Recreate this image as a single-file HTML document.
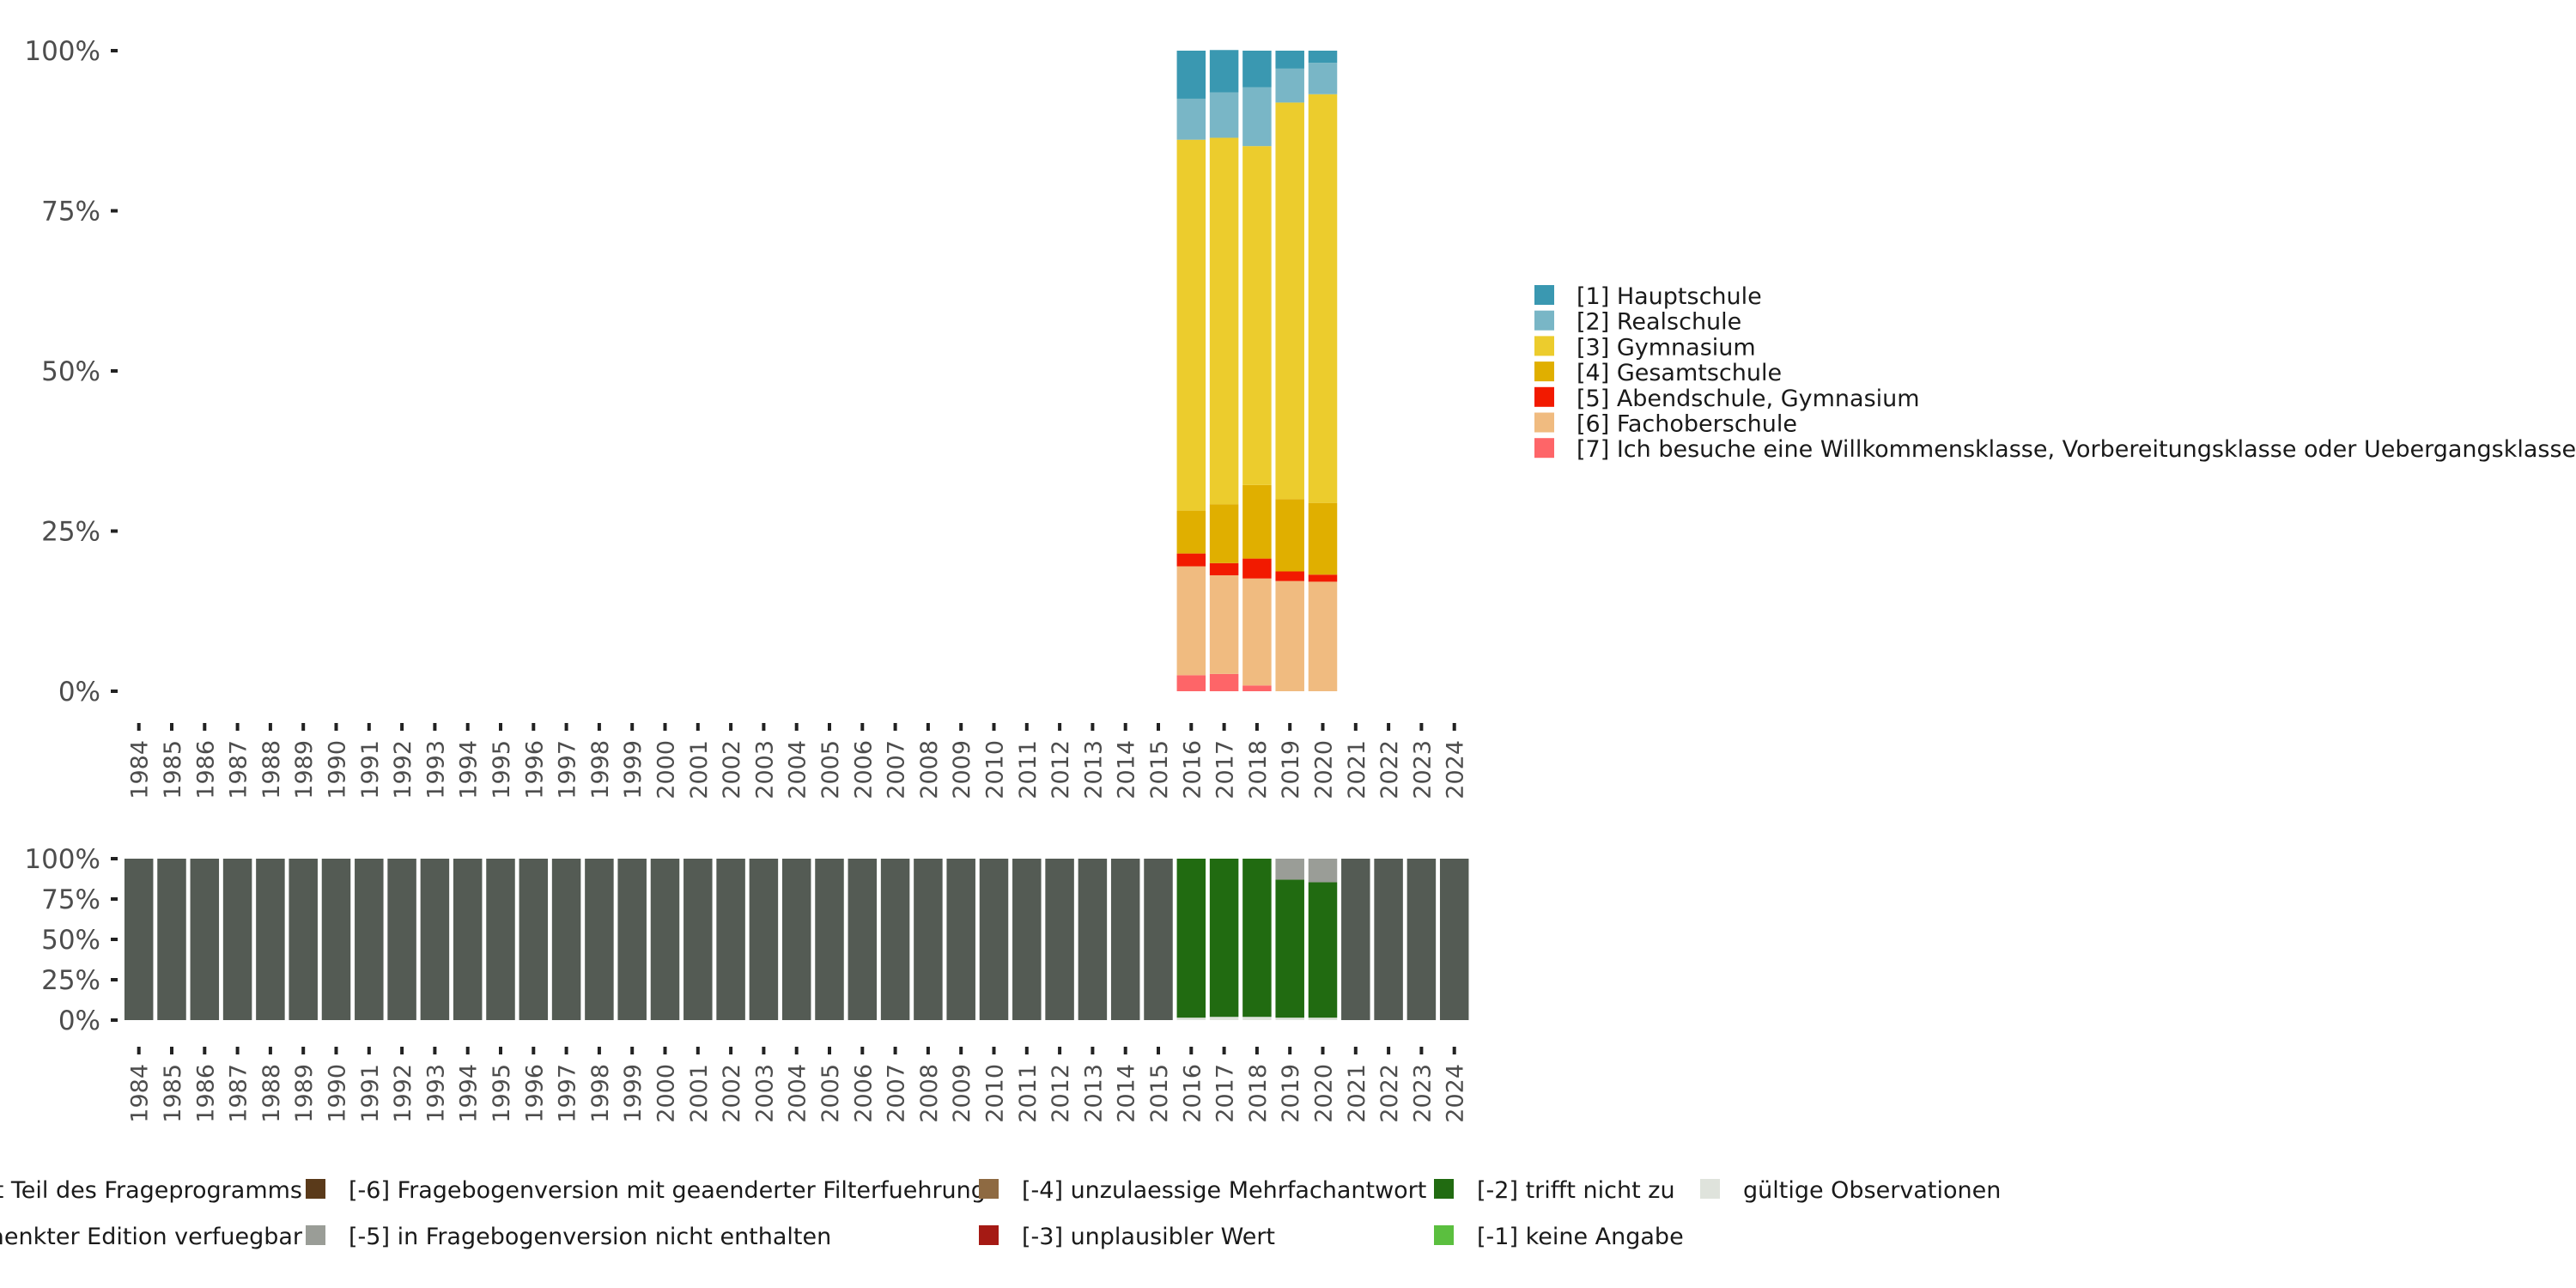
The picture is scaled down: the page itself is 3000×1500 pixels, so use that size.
<!DOCTYPE html>
<html><head><meta charset="utf-8"><style>
html,body{margin:0;padding:0;background:#fff;width:3000px;height:1500px;overflow:hidden}
svg text{font-family:"DejaVu Sans","Liberation Sans",sans-serif}
</style></head><body>
<svg id="chart" width="3000" height="1500" xmlns="http://www.w3.org/2000/svg"></svg>
<script>
const years = []; for (let y = 1984; y <= 2024; y++) years.push(y);
const topYears = [2016, 2017, 2018, 2019, 2020];
const topCats = ["[1] Hauptschule","[2] Realschule","[3] Gymnasium","[4] Gesamtschule","[5] Abendschule, Gymnasium","[6] Fachoberschule","[7] Ich besuche eine Willkommensklasse, Vorbereitungsklasse oder Uebergangsklasse"];
const topColors = ["#3a98b1","#79b6c6","#eccc2d","#e0af00","#f21a00","#f0bb80","#fe6568"];
const s1 = [7.5, 6.6, 5.7, 2.8, 1.9];
const s2 = [6.4, 7.1, 9.2, 5.3, 4.9];
const s3 = [57.9, 57.2, 52.9, 61.9, 63.8];
const s4 = [6.7, 9.2, 11.5, 11.3, 11.2];
const s5 = [2.0, 1.9, 3.1, 1.5, 1.1];
const s6 = [17.0, 15.4, 16.7, 17.2, 17.1];
const s7 = [2.5, 2.7, 0.9, 0, 0];
const topTicks = [0, 25, 50, 75, 100];
const botValid = [1.5, 2.0, 2.0, 1.5, 1.5];
const botTrifft = [98.5, 98.0, 98.0, 85.5, 83.9];
const botNotIn = [0, 0, 0, 13.0, 14.6];
const botCats1 = ["[-6] Fragebogenversion mit geaenderter Filterfuehrung","[-4] unzulaessige Mehrfachantwort","[-2] trifft nicht zu","gültige Observationen"];
const botColors1 = ["#5a3a1a","#8e6a42","#216b11","#dfe3dc"];
const botCats2 = ["[-5] in Fragebogenversion nicht enthalten","[-3] unplausibler Wert","[-1] keine Angabe"];
const botColors2 = ["#9a9d97","#a51a14","#5bbf3f"];

const NS = "http://www.w3.org/2000/svg";
const svg = document.getElementById("chart");
function mk(tag, attrs, parent) { const e = document.createElementNS(NS, tag); for (const k in attrs) e.setAttribute(k, attrs[k]); (parent||svg).appendChild(e); return e; }
const xC = y => 161.7 + (y - 1984) * 38.3;
const bw = 33.5;
const yTop = v => 805 - v * 7.46;
const yBot = v => 1188 - v * 1.88;

topTicks.forEach(t => {
  const tx = mk("text", {x: 117, y: yTop(t) + 11, "text-anchor": "end", "font-size": 31, fill: "#4d4d4d"});
  tx.textContent = t + "%";
  
  
  const l = mk("line", {x1: 129, x2: 137, y1: yTop(t), y2: yTop(t), stroke: "#222", "stroke-width": 4});
  
  
});
const topSeries = [s1, s2, s3, s4, s5, s6, s7];
topYears.forEach((yr, i) => {
  let cum = 0;
  for (let k = topSeries.length - 1; k >= 0; k--) {
    const v = topSeries[k][i];
    if (v > 0) {
      const r = mk("rect", {x: xC(yr) - bw/2, y: yTop(cum + v), width: bw, height: yTop(cum) - yTop(cum + v), fill: topColors[k]});
      
      
    }
    cum += v;
  }
});
topTicks.forEach(t => {
  const tx = mk("text", {x: 117, y: yBot(t) + 11, "text-anchor": "end", "font-size": 31, fill: "#4d4d4d"});
  tx.textContent = t + "%";
  
  
  const l = mk("line", {x1: 129, x2: 137, y1: yBot(t), y2: yBot(t), stroke: "#222", "stroke-width": 4});
  
  
});
[[842, 862], [1219, 1239]].forEach(([ty, ly]) => {
  years.forEach(yr => {
    const l = mk("line", {x1: xC(yr), x2: xC(yr), y1: ty, y2: ty + 9, stroke: "#222", "stroke-width": 4});
    
    
    const tx = mk("text", {x: 0, y: 0, "text-anchor": "end", "font-size": 27, fill: "#4d4d4d", transform: `translate(${xC(yr) + 10},${ly}) rotate(-90)`});
    tx.textContent = yr;
    
    
  });
});
years.forEach(yr => {
  const i = topYears.indexOf(yr);
  const x = xC(yr) - bw/2;
  if (i < 0) {
    const r = mk("rect", {x: x, y: yBot(100), width: bw, height: yBot(0) - yBot(100), fill: "#545b54"});
    
    
  } else {
    const segs = [[botValid[i], "#dfe3dc"], [botTrifft[i], "#216b11"], [botNotIn[i], "#9a9d97"]];
    let cum = 0;
    segs.forEach(([v, c]) => {
      if (v > 0) {
        const r = mk("rect", {x: x, y: yBot(cum + v), width: bw, height: yBot(cum) - yBot(cum + v), fill: c});
        
        
      }
      cum += v;
    });
  }
});
topCats.forEach((c, k) => {
  const cy = 344 + k * 29.7;
  const r = mk("rect", {x: 1787, y: cy - 12, width: 23, height: 23, fill: topColors[k]});
  
  
  const tx = mk("text", {x: 1836, y: cy + 10, "font-size": 27, fill: "#1a1a1a"});
  tx.textContent = c;
  
  
});
const t1 = mk("text", {x: 352, y: 1395, "text-anchor": "end", "font-size": 27, fill: "#1a1a1a"});
t1.textContent = "[-8] Frage in diesem Jahr nicht Teil des Frageprogramms";


const t2 = mk("text", {x: 352, y: 1449, "text-anchor": "end", "font-size": 27, fill: "#1a1a1a"});
t2.textContent = "[-7] Nur in eingeschraenkter Edition verfuegbar";


const xs1 = [356, 1140, 1670, 1980];
botCats1.forEach((c, k) => {
  const r = mk("rect", {x: xs1[k], y: 1373, width: 23, height: 23, fill: botColors1[k]});
  
  
  const tx = mk("text", {x: xs1[k] + 50, y: 1395, "font-size": 27, fill: "#1a1a1a"});
  tx.textContent = c;
  
  
});
const xs2 = [356, 1140, 1670];
botCats2.forEach((c, k) => {
  const r = mk("rect", {x: xs2[k], y: 1427, width: 23, height: 23, fill: botColors2[k]});
  
  
  const tx = mk("text", {x: xs2[k] + 50, y: 1449, "font-size": 27, fill: "#1a1a1a"});
  tx.textContent = c;
  
  
});
</script>
</body></html>
